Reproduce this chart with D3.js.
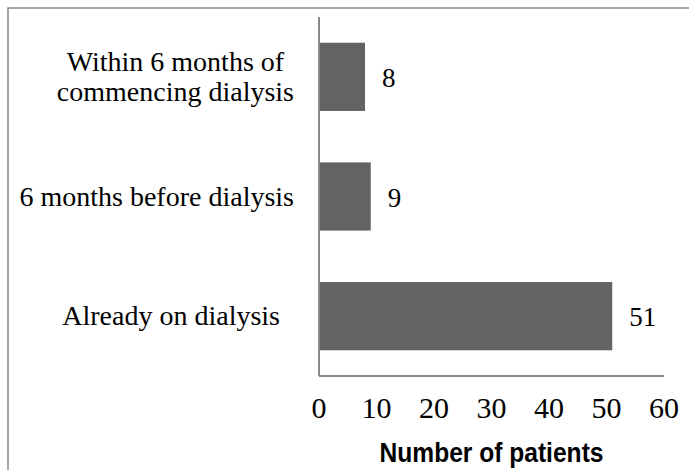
<!DOCTYPE html>
<html>
<head>
<meta charset="utf-8">
<script src="https://cdn.jsdelivr.net/npm/d3@7"></script>
<style>
  body { margin: 0; background: #fff; }
  svg { display: block; }
</style>
</head>
<body>
<div id="chart"></div>
<script>
// data
const categories = [
    ["Within 6 months of", "commencing dialysis"],
    ["6 months before dialysis"],
    ["Already on dialysis  "]
];
const patients = [8, 9, 51];
const xTicks = [0, 10, 20, 30, 40, 50, 60];
const xTitle = "Number of patients";

const W = 689, H = 470;
const plot = { left: 319, right: 664, top: 17, bottom: 376 };
const serif = "'Liberation Serif', 'Times New Roman', serif";

const svg = d3.select("#chart")
    .append("svg")
    .attr("width", W)
    .attr("height", H);

// outer border (only top and left are inside the picture)
svg.append("rect")
    .attr("x", 8).attr("y", 8)
    .attr("width", W + 20).attr("height", H + 20)
    .attr("fill", "none")
    .attr("stroke", "#888")
    .attr("stroke-width", 1.5);

const keys = categories.map((d, i) => i);

const x = d3.scaleLinear()
    .domain([0, 60])
    .range([plot.left, plot.right]);

const y = d3.scaleBand()
    .domain(keys)
    .range([plot.top, plot.bottom])
    .paddingInner(0.43)
    .paddingOuter(0.215);

// bars
svg.selectAll("rect.bar")
    .data(patients)
    .join("rect")
    .attr("class", "bar")
    .attr("x", x(0))
    .attr("y", (d, i) => y(i))
    .attr("width", d => x(d) - x(0))
    .attr("height", y.bandwidth())
    .attr("fill", "#636363");

// value labels
svg.selectAll("text.val")
    .data(patients)
    .join("text")
    .attr("class", "val")
    .attr("x", d => x(d) + 17)
    .attr("y", (d, i) => y(i) + y.bandwidth() / 2 + 10)
    .style("font-family", serif)
    .style("font-size", "27px")
    .attr("fill", "#000")
    .text(d => d);

// axes lines
svg.append("line")
    .attr("x1", x(0)).attr("x2", x(0))
    .attr("y1", plot.top).attr("y2", plot.bottom)
    .attr("stroke", "#888").attr("stroke-width", 2);

svg.append("line")
    .attr("x1", x(0)).attr("x2", plot.right)
    .attr("y1", plot.bottom).attr("y2", plot.bottom)
    .attr("stroke", "#888").attr("stroke-width", 2);

// x tick labels
svg.selectAll("text.tick")
    .data(xTicks)
    .join("text")
    .attr("class", "tick")
    .attr("x", d => x(d))
    .attr("y", 418)
    .attr("text-anchor", "middle")
    .style("font-family", serif)
    .style("font-size", "30px")
    .text(d => d);

// category labels, lines centred on each other, right edge at 294
const labelRight = 294;
categories.forEach((lines, i) => {
    const cy = y(i) + y.bandwidth() / 2 + 9;
    const t = svg.append("text")
        .style("font-family", serif)
        .style("font-size", "28px")
        .style("white-space", "pre")
        .attr("text-anchor", "middle");
    const spans = lines.map((s, j) => t.append("tspan")
        .attr("y", cy + (j - (lines.length - 1) / 2) * 30)
        .text(s));
    const maxW = d3.max(spans, s => s.node().getComputedTextLength());
    spans.forEach(s => s.attr("x", labelRight - maxW / 2));
});

// x axis title (no narrow font installed, so squeeze it)
svg.append("text")
    .attr("x", (plot.left + plot.right) / 2)
    .attr("y", 462)
    .attr("text-anchor", "middle")
    .attr("textLength", 224)
    .attr("lengthAdjust", "spacingAndGlyphs")
    .style("font-family", "'Liberation Sans', Arial, sans-serif")
    .style("font-weight", "bold")
    .style("font-size", "28px")
    .text(xTitle);
</script>
</body>
</html>
